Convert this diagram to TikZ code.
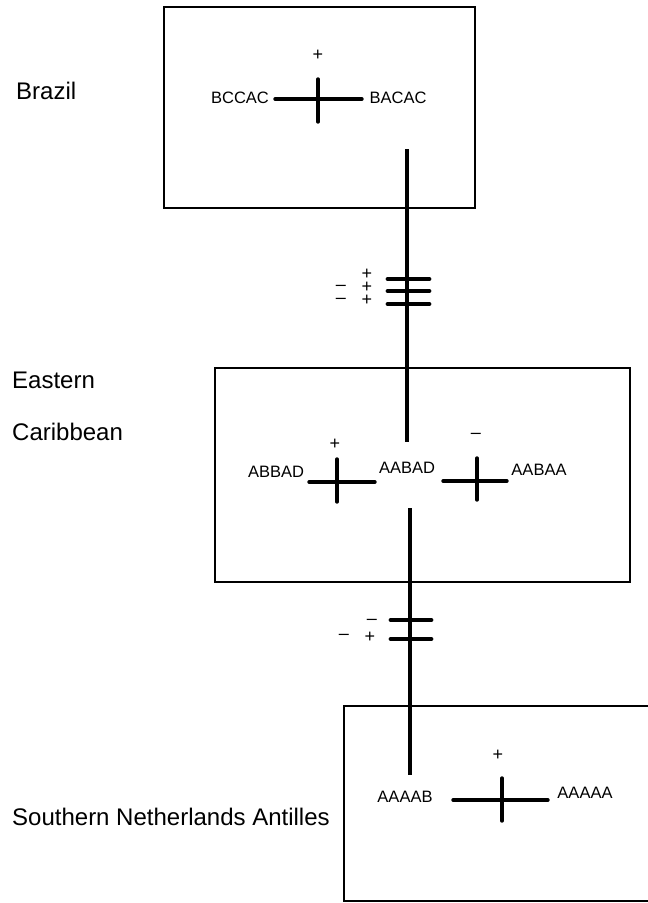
\documentclass[tikz,border=0pt]{standalone}
\usepackage{fontspec}
\setmainfont{Liberation Sans}
\usetikzlibrary{positioning}

\begin{document}
\begin{tikzpicture}[x=1pt, y=-1pt,
  box/.style={line width=2.6pt},
  arm/.style={line width=3.4pt, line cap=round},
  link/.style={line width=3.6pt},
  bar/.style={line width=4.8pt, line cap=round},
  region/.style={font=\fontsize{24}{26}\selectfont, anchor=west, inner sep=0pt},
  hap/.style={font=\fontsize{16.5}{18}\selectfont, inner sep=0pt},
  sgn/.style={font=\fontsize{18}{19}\selectfont, inner sep=0pt, text height=1ex, text depth=0pt}]
\useasboundingbox (0,0) rectangle (648,903);
% ---- Brazil
\draw[box] (164,7) rectangle (475,208);
\node[region] (brazil) at (16,91) {Brazil};
\node[hap] (bccac) at (240,98) {BCCAC};
\node[hap] (bacac) at (398,98) {BACAC};
\draw[arm] (275,99) -- (362,99);
\draw[arm] (318,79) -- (318,122);
\node[sgn] (brplus) at (318,58) {+};
% ---- link Brazil -> Eastern Caribbean
\coordinate (upA) at (407,149);
\coordinate (upB) at (407,442);
\draw[link] (upA) -- (upB);
\foreach \y in {279,291,304}
  \draw[bar] (388,\y) -- (429,\y);
\foreach \y [count=\i] in {277,290,303}
  \node[sgn] (upp\i) at (367,\y) {+};
\node[sgn] (upm1) at (341,288) {--};
\node[sgn] (upm2) at (341,301) {--};
% ---- Eastern Caribbean
\draw[box] (215,368) rectangle (630,582);
\node[region] (eastern) at (12,380) {Eastern};
\node[region] (carib) at (12,432) {Caribbean};
\node[hap] (abbad) at (276,472) {ABBAD};
\node[hap] (aabad) at (407,468) {AABAD};
\node[hap] (aabaa) at (539,470) {AABAA};
\draw[arm] (309,482) -- (375,482);
\draw[arm] (337,459) -- (337,502);
\node[sgn] (ecplus) at (335,447) {+};
\draw[arm] (443,481) -- (507,481);
\draw[arm] (477,458) -- (477,500);
\node[sgn] (ecminus) at (476,436) {--};
% ---- link Eastern Caribbean -> Antilles
\coordinate (loA) at (410,508);
\coordinate (loB) at (410,775);
\draw[link] (loA) -- (loB);
\foreach \y in {620,639}
  \draw[bar] (391,\y) -- (431,\y);
\node[sgn] (lom1) at (372,622) {--};
\node[sgn] (lom2) at (344,637) {--};
\node[sgn] (lop1) at (370,640) {+};
% ---- Southern Netherlands Antilles
\draw[box] (650,706) -- (344,706) -- (344,901) -- (650,901);
\node[region] (antilles) at (12,817) {Southern Netherlands Antilles};
\node[hap] (aaaab) at (405,797) {AAAAB};
\node[hap] (aaaaa) at (585,793) {AAAAA};
\draw[arm] (453,800) -- (548,800);
\draw[arm] (502,778) -- (502,821);
\node[sgn] (naplus) at (498,758) {+};
\end{tikzpicture}
\end{document}
